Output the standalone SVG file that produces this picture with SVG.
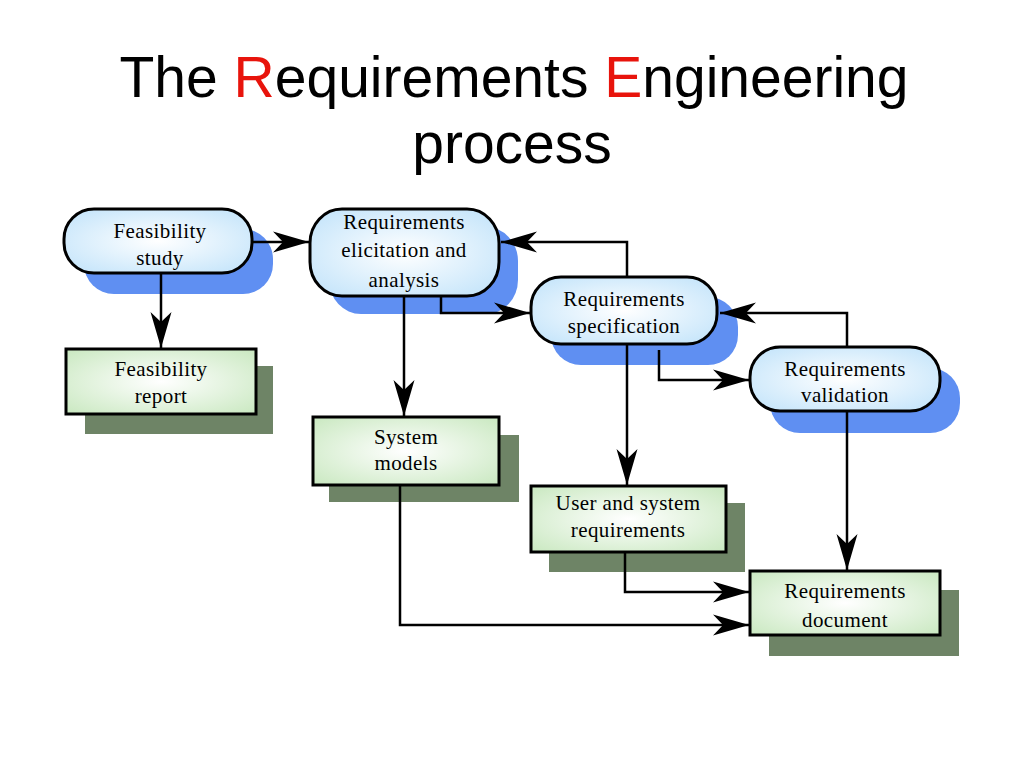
<svg xmlns="http://www.w3.org/2000/svg" width="1024" height="768" viewBox="0 0 1024 768">
<style>
.title{font-family:"Liberation Sans",Arial,sans-serif;font-size:57px;fill:#000}
.red{fill:#e8140c}
.lbl{font-family:"Liberation Serif","Times New Roman",serif;font-size:21px;fill:#000;text-anchor:middle;letter-spacing:0.4px}
.pill{fill:url(#gb);stroke:#000;stroke-width:3}
.pshadow{fill:#5f8ff2}
.box{fill:url(#gg);stroke:#000;stroke-width:3}
.bshadow{fill:#6e8466}
.conn{fill:none;stroke:#000;stroke-width:2.5}
</style>
<defs>
<radialGradient id="gb" cx="0.5" cy="0.5" r="0.7">
<stop offset="0" stop-color="#ffffff"/>
<stop offset="1" stop-color="#bfe2fa"/>
</radialGradient>
<radialGradient id="gg" cx="0.5" cy="0.5" r="0.7">
<stop offset="0" stop-color="#ffffff"/>
<stop offset="1" stop-color="#c9e8c0"/>
</radialGradient>
<marker id="ah" markerUnits="userSpaceOnUse" markerWidth="38" markerHeight="24" refX="36" refY="12" orient="auto" viewBox="0 0 38 24">
<path d="M0,1.5 L36,12 L0,22.5 L10,12 Z" fill="#000"/>
</marker>
</defs>
<rect width="1024" height="768" fill="#fff"/>
<g id="title">
<text class="title" x="514" y="97" text-anchor="middle">The <tspan class="red">R</tspan>equirements <tspan class="red">E</tspan>ngineering</text>
<text class="title" x="512" y="163" text-anchor="middle">process</text>
</g>
<g id="feasibility-study">
<rect class="pshadow" x="84" y="229" width="189" height="65" rx="30" ry="30"/>
<rect class="pill" x="64" y="209" width="188" height="64" rx="30" ry="30"/>
<text class="lbl" x="160" y="238">Feasibility</text>
<text class="lbl" x="160" y="265">study</text>
</g>
<g id="elicitation">
<rect class="pshadow" x="329" y="227" width="189" height="87" rx="32" ry="34"/>
<rect class="pill" x="310" y="209" width="189" height="87" rx="32" ry="34"/>
<text class="lbl" x="404" y="229">Requirements</text>
<text class="lbl" x="404" y="257">elicitation and</text>
<text class="lbl" x="404" y="287">analysis</text>
</g>
<g id="specification">
<rect class="pshadow" x="551" y="297" width="187" height="68" rx="30" ry="30"/>
<rect class="pill" x="531" y="277" width="186" height="67" rx="30" ry="30"/>
<text class="lbl" x="624" y="306">Requirements</text>
<text class="lbl" x="624" y="333">specification</text>
</g>
<g id="validation">
<rect class="pshadow" x="770" y="368" width="190" height="65" rx="30" ry="30"/>
<rect class="pill" x="750" y="347" width="190" height="64" rx="30" ry="30"/>
<text class="lbl" x="845" y="376">Requirements</text>
<text class="lbl" x="845" y="402">validation</text>
</g>
<g id="feasibility-report">
<rect class="bshadow" x="85" y="366" width="188" height="68"/>
<rect class="box" x="66" y="349" width="190" height="65"/>
<text class="lbl" x="161" y="376">Feasibility</text>
<text class="lbl" x="161" y="403">report</text>
</g>
<g id="system-models">
<rect class="bshadow" x="329" y="435" width="190" height="67"/>
<rect class="box" x="313" y="417" width="186" height="68"/>
<text class="lbl" x="406" y="444">System</text>
<text class="lbl" x="406" y="470">models</text>
</g>
<g id="user-system-requirements">
<rect class="bshadow" x="549" y="503" width="196" height="69"/>
<rect class="box" x="531" y="486" width="195" height="66"/>
<text class="lbl" x="628" y="510">User and system</text>
<text class="lbl" x="628" y="537">requirements</text>
</g>
<g id="requirements-document">
<rect class="bshadow" x="769" y="590" width="190" height="66"/>
<rect class="box" x="750" y="571" width="190" height="64"/>
<text class="lbl" x="845" y="598">Requirements</text>
<text class="lbl" x="845" y="627">document</text>
</g>
<g id="connectors">
<path class="conn" marker-end="url(#ah)" d="M252,242 H309"/>
<path class="conn" marker-end="url(#ah)" d="M161,273 V348"/>
<path class="conn" marker-end="url(#ah)" d="M404,296 V416"/>
<path class="conn" marker-end="url(#ah)" d="M441,296 V313 H530"/>
<path class="conn" marker-end="url(#ah)" d="M627,277 V242 H501"/>
<path class="conn" marker-end="url(#ah)" d="M627,344 V485"/>
<path class="conn" marker-end="url(#ah)" d="M659,350 V380 H749"/>
<path class="conn" marker-end="url(#ah)" d="M847,347 V313 H720"/>
<path class="conn" marker-end="url(#ah)" d="M847,411 V570"/>
<path class="conn" marker-end="url(#ah)" d="M625,552 V592 H749"/>
<path class="conn" marker-end="url(#ah)" d="M400,485 V625 H749"/>
</g>
</svg>
